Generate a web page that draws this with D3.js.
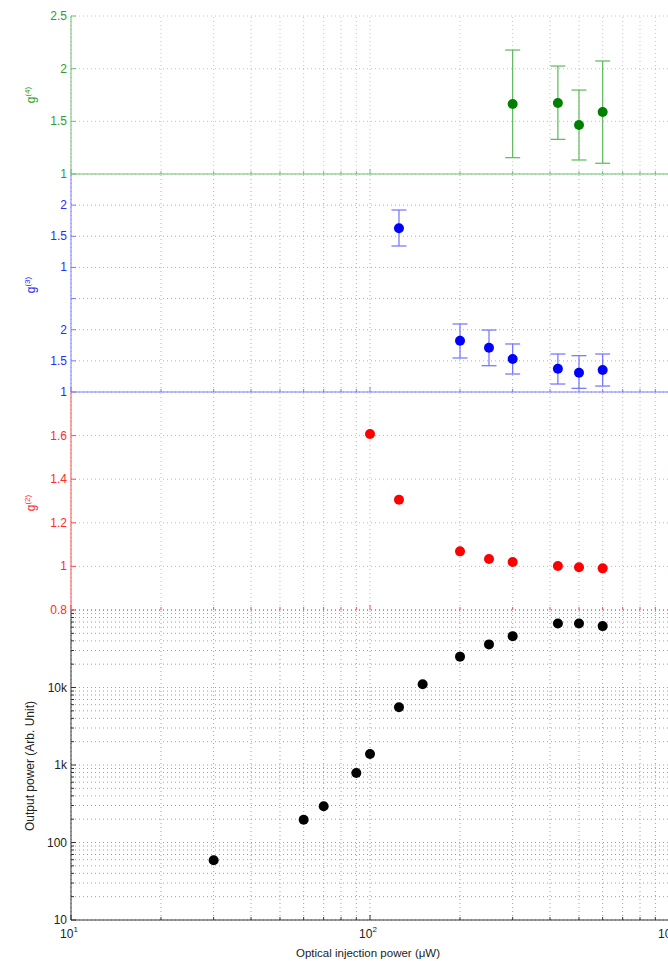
<!DOCTYPE html>
<html>
<head>
<meta charset="utf-8">
<script src="https://cdn.jsdelivr.net/npm/d3@7"></script>
<style>
  body { margin: 0; background: #fff; }
  text { font-family: "Liberation Sans", Arial, sans-serif; }
</style>
</head>
<body>
<svg id="chart" width="668" height="961"></svg>
<script>
// ---- data -------------------------------------------------------------
// fourth-order correlation g(4) with error bounds
const g4X  = [300, 425, 500, 600];
const g4Y  = [1.665, 1.674, 1.465, 1.589];
const g4Lo = [1.155, 1.329, 1.133, 1.102];
const g4Hi = [2.177, 2.025, 1.797, 2.073];

// third-order correlation g(3) with error bounds (panel coordinates)
const g3X  = [125, 200, 250, 300, 425, 500, 600];
const g3Y  = [3.628, 1.824, 1.711, 1.530, 1.374, 1.310, 1.353];
const g3Lo = [3.344, 1.546, 1.422, 1.289, 1.128, 1.059, 1.096];
const g3Hi = [3.922, 2.092, 1.995, 1.771, 1.610, 1.583, 1.610];

// second-order correlation g(2)
const g2X = [100, 125, 200, 250, 300, 425, 500, 600];
const g2Y = [1.607, 1.306, 1.069, 1.034, 1.020, 1.002, 0.996, 0.991];

// output power (arb. unit)
const pX = [30, 60, 70, 90, 100, 125, 150, 200, 250, 300, 425, 500, 600];
const pY = [59, 197, 293, 789, 1390, 5560, 11000, 25000, 36000, 46000, 67000, 67000, 62000];

// tick values and labels
const g4Ticks = [1, 1.5, 2, 2.5];
const g4TickLabels = ["1", "1.5", "2", "2.5"];
const g3Ticks = [1, 1.5, 2, 2.5, 3, 3.5, 4];
const g3TickLabels = ["1", "1.5", "2", "", "1", "1.5", "2"];
const g2Ticks = [0.8, 1, 1.2, 1.4, 1.6];
const g2TickLabels = ["0.8", "1", "1.2", "1.4", "1.6"];
const pTicks = [10, 100, 1000, 10000];
const pTickLabels = ["10", "100", "1k", "10k"];
const xTickExponents = [1, 2, 3];

// ---- layout -----------------------------------------------------------
const svg = d3.select("#chart");
const left = 71, right = 669;
const x = d3.scaleLog().domain([10, 1000]).range([left, right]);

// every decade sub-division on the x axis
const xMinor = [];
for (let d = 1; d <= 2; d++) for (let m = 1; m <= 9; m++) xMinor.push(m * Math.pow(10, d));
xMinor.push(1000);

function panel(opt) {
  const g = svg.append("g");
  const y = opt.y;
  const [y0, y1] = y.range(); // bottom, top

  // dotted grid
  g.selectAll(".vg").data(xMinor).join("line")
    .attr("x1", d => x(d)).attr("x2", d => x(d))
    .attr("y1", y0).attr("y2", y1)
    .attr("stroke", opt.grid).attr("stroke-width", 1)
    .attr("stroke-dasharray", "1,3");
  g.selectAll(".hg").data(opt.hgrid).join("line")
    .attr("x1", left).attr("x2", right)
    .attr("y1", d => y(d)).attr("y2", d => y(d))
    .attr("stroke", opt.grid).attr("stroke-width", 1)
    .attr("stroke-dasharray", "1,3");

  // axis lines
  g.append("line").attr("x1", left).attr("x2", right).attr("y1", y0).attr("y2", y0)
    .attr("stroke", opt.axis).attr("stroke-width", 1)
    .attr("stroke-dasharray", opt.baseDash || null);
  g.append("line").attr("x1", left).attr("x2", left).attr("y1", y0).attr("y2", y1)
    .attr("stroke", opt.axis).attr("stroke-width", 1);

  // inward ticks on the x axis
  g.selectAll(".xt").data(xMinor).join("line")
    .attr("x1", d => x(d)).attr("x2", d => x(d))
    .attr("y1", y0).attr("y2", d => y0 - ([10, 100, 1000].includes(d) ? 5 : 3))
    .attr("stroke", opt.axis);

  // inward ticks on the y axis
  g.selectAll(".yt").data(opt.yticks).join("line")
    .attr("x1", left).attr("x2", left + 5)
    .attr("y1", d => y(d)).attr("y2", d => y(d))
    .attr("stroke", opt.axis);
  if (opt.yminor) {
    g.selectAll(".ym").data(opt.yminor).join("line")
      .attr("x1", left).attr("x2", left + 3)
      .attr("y1", d => y(d)).attr("y2", d => y(d))
      .attr("stroke", opt.axis);
  }

  // tick labels
  g.selectAll(".yl").data(opt.yticks).join("text")
    .attr("x", left - 4).attr("y", d => y(d) + 4)
    .attr("text-anchor", "end").attr("font-size", 12)
    .attr("fill", opt.text)
    .text((d, i) => opt.ylabels[i]);

  // axis title
  const t = g.append("text")
    .attr("transform", `translate(${opt.titleX},${opt.titleY}) rotate(-90)`)
    .attr("text-anchor", "middle").attr("font-size", 12)
    .attr("fill", opt.text);
  if (opt.sup) {
    t.append("tspan").text("g");
    t.append("tspan").attr("font-size", 8).attr("dy", -5).text(opt.sup);
  } else {
    t.text(opt.title);
  }
  return g;
}

function errorBars(g, xs, lo, hi, y, color) {
  const cap = 7.5;
  xs.forEach((v, i) => {
    const cx = x(v);
    g.append("line").attr("x1", cx).attr("x2", cx)
      .attr("y1", y(lo[i])).attr("y2", y(hi[i]))
      .attr("stroke", color).attr("stroke-width", 1.2);
    [lo[i], hi[i]].forEach(e => {
      g.append("line").attr("x1", cx - cap).attr("x2", cx + cap)
        .attr("y1", y(e)).attr("y2", y(e))
        .attr("stroke", color).attr("stroke-width", 1.2);
    });
  });
}

function dots(g, xs, ys, y, color) {
  g.selectAll(".dot").data(xs).join("circle")
    .attr("cx", d => x(d)).attr("cy", (d, i) => y(ys[i]))
    .attr("r", 5).attr("fill", color);
}

// ---- output power (log) ----------------------------------------------
const yP = d3.scaleLog().domain([10, 1e5]).range([920, 610]);
const pMinor = [];
for (let d = 1; d <= 4; d++) for (let m = 1; m <= 9; m++) pMinor.push(m * Math.pow(10, d));
pMinor.push(1e5);
const gP = panel({
  y: yP, hgrid: pMinor, yticks: pTicks, ylabels: pTickLabels,
  yminor: pMinor.filter(v => !pTicks.includes(v)),
  grid: "#a0a0a0", axis: "#333", text: "#222",
  titleX: 34, titleY: 766, title: "Output power (Arb. Unit)"
});
dots(gP, pX, pY, yP, "#000");

// x-axis labels (10^n)
xTickExponents.forEach(e => {
  const lbl = gP.append("text").attr("x", x(Math.pow(10, e)) - 2).attr("y", 938)
    .attr("text-anchor", "middle").attr("font-size", 12).attr("fill", "#222");
  lbl.append("tspan").text("10");
  lbl.append("tspan").attr("font-size", 8).attr("dy", -6).text(e);
});
gP.append("text").attr("x", 368).attr("y", 957)
  .attr("text-anchor", "middle").attr("font-size", 11.5).attr("fill", "#222")
  .text("Optical injection power (μW)");

// ---- g(2) --------------------------------------------------------------
const y2 = d3.scaleLinear().domain([0.8, 1.8]).range([610, 392]);
const g2g = panel({
  y: y2, hgrid: [0.8, 1, 1.2, 1.4, 1.6], yticks: g2Ticks, ylabels: g2TickLabels,
  grid: "#f5a0a0", axis: "#ff4a4a", text: "#ff2a2a", baseDash: "1,3",
  titleX: 35, titleY: 503, sup: "(2)"
});
dots(g2g, g2X, g2Y, y2, "#ff0000");

// ---- g(3) --------------------------------------------------------------
const y3 = d3.scaleLinear().domain([1, 4.5]).range([392, 174]);
const g3g = panel({
  y: y3, hgrid: g3Ticks, yticks: g3Ticks, ylabels: g3TickLabels,
  grid: "#a8a8f0", axis: "#7a7aff", text: "#2a2aff",
  titleX: 35, titleY: 285, sup: "(3)"
});
errorBars(g3g, g3X, g3Lo, g3Hi, y3, "#7070ff");
dots(g3g, g3X, g3Y, y3, "#0000ff");

// ---- g(4) --------------------------------------------------------------
const y4 = d3.scaleLinear().domain([1, 2.5]).range([174, 16]);
const g4g = panel({
  y: y4, hgrid: g4Ticks, yticks: g4Ticks, ylabels: g4TickLabels,
  grid: "#a8d8a8", axis: "#6cbf6c", text: "#2e9e2e",
  titleX: 35, titleY: 95, sup: "(4)"
});
errorBars(g4g, g4X, g4Lo, g4Hi, y4, "#5cb85c");
dots(g4g, g4X, g4Y, y4, "#008000");
</script>
</body>
</html>
